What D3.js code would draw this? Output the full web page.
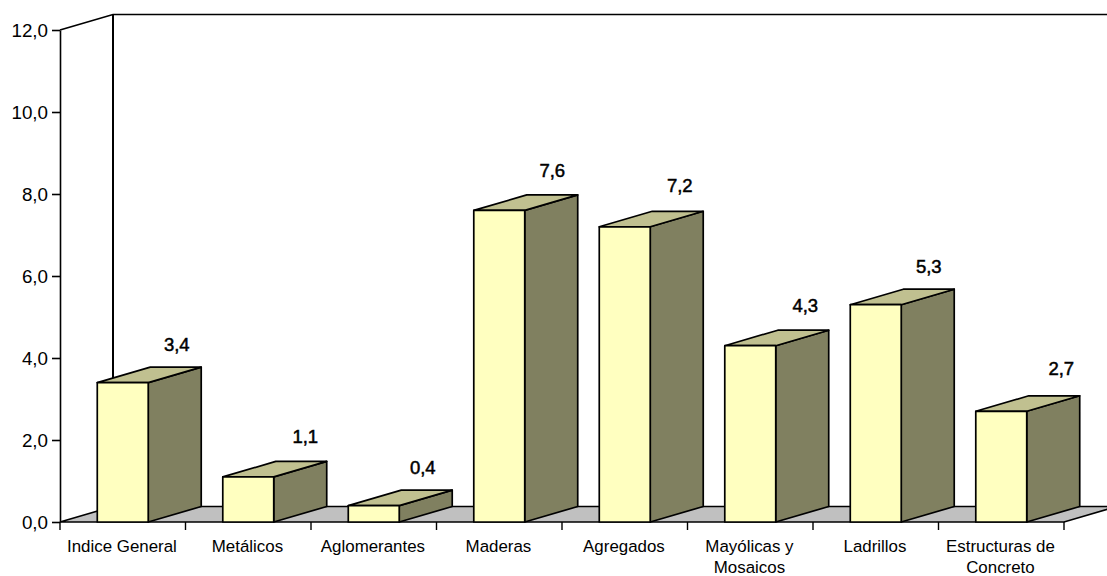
<!DOCTYPE html>
<html>
<head>
<meta charset="utf-8">
<script src="https://cdn.jsdelivr.net/npm/d3@7"></script>
<style>
html,body{margin:0;padding:0;background:#fff;overflow:hidden}
svg{display:block}
text{font-family:"Liberation Sans",Arial,sans-serif;fill:#000}
</style>
</head>
<body>
<script>
var categories = ['Indice General','Metálicos','Aglomerantes','Maderas','Agregados','Mayólicas y|Mosaicos','Ladrillos','Estructuras de|Concreto'];
var values = [3.4,1.1,0.4,7.6,7.2,4.3,5.3,2.7];
var valueTicks = [0,2,4,6,8,10,12];

var W = 1107, H = 576;
var left = 60, right = 1064, bottom = 522, top_ = 30;
var depthX = 53, depthY = 15.5;

// the value labels were placed by hand in the original, so each has its own shift
var labelDx = [54,57,49,53,55,55,53,60];
var labelDy = [-32,-34,-32,-33,-35,-34,-32,-36];

var comma = function(v){ return v.toFixed(1).replace('.',','); };
var path = function(pts){ return d3.line()(pts) + 'Z'; };

var y = d3.scaleLinear().domain([0,12]).range([bottom,top_]);
var x = d3.scaleBand().domain(categories).range([left,right]).paddingInner(0.594).paddingOuter(0.297);

var svg = d3.select('body').append('svg').attr('width',W).attr('height',H);

// floor and back wall
svg.append('path')
    .attr('d',path([[left,bottom],[left+depthX,bottom-depthY],[right+depthX,bottom-depthY],[right,bottom]]))
    .attr('fill','#c0c0c0')
    .attr('stroke','#000')
    .attr('stroke-width',1.6);
svg.append('path')
    .attr('d',d3.line()([[left,y(12)],[left+depthX,y(12)-depthY],[W,y(12)-depthY]]))
    .attr('fill','none')
    .attr('stroke','#000')
    .attr('stroke-width',1.7);
svg.append('line')
    .attr('x1',left+depthX).attr('x2',left+depthX)
    .attr('y1',y(12)-depthY).attr('y2',bottom-depthY)
    .attr('stroke','#000')
    .attr('stroke-width',2);

// axes
var yAxis = d3.axisLeft(y).tickValues(valueTicks).tickFormat(comma).tickSize(8).tickSizeOuter(0);
var gy = svg.append('g').attr('transform','translate('+left+',0)').call(yAxis);
gy.selectAll('text').style('font-size','18.8px').attr('x',-12).attr('dy','0.36em');

var xTicks = d3.range(categories.length+1).map(function(i){ return left+i*x.step(); });
svg.append('g').selectAll('line')
    .data(xTicks)
    .enter()
    .append('line')
    .attr('x1',function(d){return d;}).attr('x2',function(d){return d;})
    .attr('y1',bottom).attr('y2',bottom+8)
    .attr('stroke','#000').attr('stroke-width',1.4);
gy.selectAll('path,line').attr('stroke','#000').attr('stroke-width',1.6);

// bars
var bars = svg.append('g').selectAll('g')
    .data(categories)
    .enter()
    .append('g');

bars.append('path')
    .attr('d',function(d,i){
        var x0=x(d)+x.bandwidth(), t=y(values[i]);
        return path([[x0,t],[x0+depthX,t-depthY],[x0+depthX,bottom-depthY],[x0,bottom]]);
    })
    .attr('fill','#808060');
bars.append('path')
    .attr('d',function(d,i){
        var x0=x(d), x1=x0+x.bandwidth(), t=y(values[i]);
        return path([[x0,t],[x0+depthX,t-depthY],[x1+depthX,t-depthY],[x1,t]]);
    })
    .attr('fill','#c0c090');
bars.append('rect')
    .attr('x',function(d){return x(d);})
    .attr('y',function(d,i){return y(values[i]);})
    .attr('width',x.bandwidth())
    .attr('height',function(d,i){return bottom-y(values[i]);})
    .attr('fill','#ffffc0');
bars.selectAll('path,rect')
    .attr('stroke','#000')
    .attr('stroke-width',1.7)
    .attr('stroke-linejoin','round');

// value labels
bars.append('text')
    .attr('x',function(d,i){return x(d)+x.bandwidth()/2+labelDx[i];})
    .attr('y',function(d,i){return y(values[i])+labelDy[i];})
    .attr('text-anchor','middle')
    .style('font-size','18.5px')
    .style('stroke','#000')
    .style('stroke-width','0.5px')
    .text(function(d,i){return comma(values[i]);});

// category labels
svg.append('g').selectAll('text')
    .data(categories)
    .enter()
    .append('text')
    .attr('text-anchor','middle')
    .style('font-size','16.9px')
    .each(function(d){
        var cx = x(d)+x.bandwidth()/2-0.8;
        d3.select(this).selectAll('tspan')
            .data(d.split('|'))
            .enter()
            .append('tspan')
            .attr('x',cx)
            .attr('y',function(s,j){return 552+j*21;})
            .text(function(s){return s;});
    });
</script>
</body>
</html>
